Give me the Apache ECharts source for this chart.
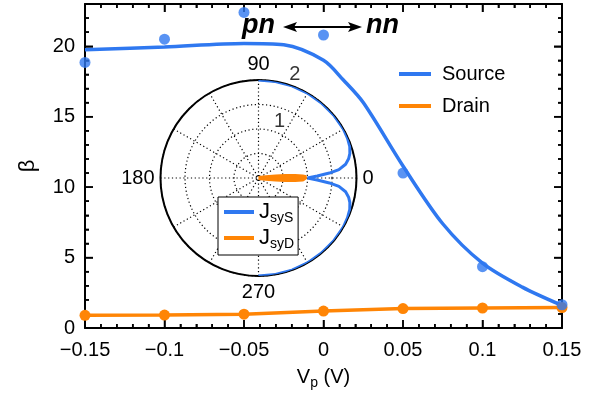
<!DOCTYPE html>
<html>
<head>
<meta charset="utf-8">
<script src="https://cdn.jsdelivr.net/npm/echarts@6/dist/echarts.min.js"></script>
<style>
html, body { margin: 0; padding: 0; background: #fff; }
#wrap { position: relative; width: 599px; height: 397px; }
#wrap div.layer { position: absolute; left: 0; top: 0; width: 599px; height: 397px; }
</style>
</head>
<body>
<div id="wrap">
  <div class="layer" id="frame"></div>
  <div class="layer" id="main"></div>
  <div class="layer" id="inset"></div>
</div>
<script>
// measured points
var vp = [-0.15, -0.1, -0.05, 0, 0.05, 0.1, 0.15];
var sourceBeta = [18.85, 20.5, 22.4, 20.8, 11.0, 4.35, 1.65];
var drainBeta = [0.9, 0.92, 0.98, 1.2, 1.38, 1.42, 1.45];

// fitted source curve
var fitVp = [-0.15, -0.1, -0.05, -0.025, 0, 0.0125, 0.025, 0.05, 0.075, 0.1, 0.125, 0.15];
var fitBeta = [19.75, 19.95, 20.2, 20.1, 19.0, 17.6, 16.0, 11.5, 7.4, 4.6, 2.9, 1.6];

// inset polar curves (angle in degrees, magnitude)
var jsySAngle = [90, 80, 70, 60, 50, 40, 30, 24, 19, 15, 12, 9, 6, 4, 2, 0, 358, 356, 354, 351, 348, 345, 341, 336, 330, 320, 310, 300, 290, 280, 270];
var jsySMag = [2, 2, 2, 2, 2, 2, 2, 1.99, 1.97, 1.93, 1.88, 1.8, 1.65, 1.45, 1.2, 1.0, 1.2, 1.45, 1.65, 1.8, 1.88, 1.93, 1.97, 1.99, 2, 2, 2, 2, 2, 2, 2];
var jsyDAngle = [8, 6, 5, 4, 3, 2, 1, 0, 359, 358, 357, 356, 355, 354, 352];
var jsyDMag = [0, 0.15, 0.35, 0.55, 0.75, 0.9, 0.97, 1.0, 0.97, 0.9, 0.75, 0.55, 0.35, 0.15, 0];
var radialTicks = [1, 2];
var angleTicks = [0, 90, 180, 270];

var blue = '#2f78f0';
var orange = '#ff8505';
var font = 'Liberation Sans, Arial, sans-serif';
var grid = { left: 85, right: 37, top: 4, bottom: 69, containLabel: false, outerBoundsMode: 'none' };
var xRange = { min: -0.15, max: 0.15, interval: 0.05 };
var yRange = { min: 0, max: 23, interval: 5 };

function pairs(a, b) {
    return a.map(function (v, i) { return [v, b[i]]; });
}

function fmtX(v) {
    var s = String(+Math.abs(v).toFixed(2));
    return v < -1e-9 ? '\u2212' + s : s;
}

function assign(target) {
    for (var i = 1; i < arguments.length; i++) {
        for (var k in arguments[i]) target[k] = arguments[i][k];
    }
    return target;
}

// boxed frame with inward ticks
function frameAxis(range, extra) {
    return assign({
        type: 'value',
        axisLine: { show: true, onZero: false, lineStyle: { color: '#000', width: 2 } },
        axisTick: { show: true, inside: true, length: 8, lineStyle: { color: '#000', width: 1.5 } },
        minorTick: { show: true, splitNumber: 5, length: 4, lineStyle: { color: '#000', width: 1.5 } },
        splitLine: { show: false },
        minorSplitLine: { show: false }
    }, range, extra);
}

// tick marks on all four sides, placed through the axis scales
var frameTicks = [];
for (var i = 0; i <= 30; i++) {
    frameTicks.push([+(xRange.min + i * 0.01).toFixed(2), yRange.min, 0, i % 5 === 0 ? 8 : 4]);
}
for (var j = 0; j <= 23; j++) {
    frameTicks.push([xRange.min, j, 1, j % 5 === 0 ? 8 : 4]);
}

function renderTick(params, api) {
    var kind = api.value(2), len = api.value(3);
    var st = { stroke: '#000', lineWidth: 1.5 };
    var a, b;
    if (kind === 0) {
        a = api.coord([api.value(0), yRange.min]);
        b = api.coord([api.value(0), yRange.max]);
        return { type: 'group', children: [
            { type: 'line', shape: { x1: a[0], y1: a[1], x2: a[0], y2: a[1] - len }, style: st },
            { type: 'line', shape: { x1: b[0], y1: b[1], x2: b[0], y2: b[1] + len }, style: st }
        ] };
    }
    a = api.coord([xRange.min, api.value(1)]);
    b = api.coord([xRange.max, api.value(1)]);
    return { type: 'group', children: [
        { type: 'line', shape: { x1: a[0], y1: a[1], x2: a[0] + len, y2: a[1] }, style: st },
        { type: 'line', shape: { x1: b[0], y1: b[1], x2: b[0] - len, y2: b[1] }, style: st }
    ] };
}

// layer 1: frame, ticks, labels
var frameChart = echarts.init(document.getElementById('frame'));
frameChart.setOption({
    animation: false,
    backgroundColor: '#fff',
    textStyle: { fontFamily: font },
    grid: grid,
    xAxis: [
        frameAxis(xRange, {
            axisLabel: { color: '#000', fontSize: 20, margin: 12, formatter: fmtX },
            name: '{v|V}{p|p}{v| (V)}', nameLocation: 'middle', nameGap: 36,
            nameTextStyle: {
                rich: {
                    v: { fontSize: 20, color: '#000', fontFamily: font },
                    p: { fontSize: 14, color: '#000', fontFamily: font, padding: [12, 0, 0, 0] }
                }
            }
        }),
        frameAxis(xRange, { position: 'top', axisLabel: { show: false } })
    ],
    yAxis: [
        frameAxis(yRange, {
            axisLabel: { color: '#000', fontSize: 20, margin: 10, showMaxLabel: false },
            name: '\u03b2', nameLocation: 'middle', nameGap: 46, nameRotate: 90,
            nameTextStyle: { color: '#000', fontSize: 22 }
        }),
        frameAxis(yRange, { position: 'right', axisLabel: { show: false } })
    ],
    series: [
        {
            type: 'custom', coordinateSystem: 'cartesian2d', xAxisIndex: 0, yAxisIndex: 0,
            data: frameTicks, renderItem: renderTick, silent: true, clip: false, z: 10
        }
    ]
});

// layer 2: beta vs Vp
var mainChart = echarts.init(document.getElementById('main'));
mainChart.setOption({
    animation: false,
    backgroundColor: 'transparent',
    textStyle: { fontFamily: font },
    grid: grid,
    xAxis: assign({ type: 'value', show: false }, xRange),
    yAxis: assign({ type: 'value', show: false }, yRange),
    legend: {
        data: ['Source', 'Drain'], orient: 'vertical', left: 399, top: 64,
        padding: 0, itemGap: 12, itemWidth: 32, itemHeight: 4, icon: 'rect',
        textStyle: { color: '#000', fontSize: 20, padding: [0, 0, 0, 6] },
        selectedMode: false
    },
    series: [
        {
            name: 'Source', type: 'line',
            data: pairs(fitVp, fitBeta), smooth: 0.3, showSymbol: false,
            color: blue, lineStyle: { color: blue, width: 3.5 }, z: 3
        },
        {
            name: 'Source data', type: 'scatter',
            data: pairs(vp, sourceBeta), symbolSize: 11,
            itemStyle: { color: blue }, z: 4
        },
        {
            name: 'Drain', type: 'line',
            data: pairs(vp, drainBeta), symbol: 'circle', symbolSize: 11, showSymbol: true,
            color: orange, itemStyle: { color: orange }, lineStyle: { color: orange, width: 3.5 }, z: 3
        }
    ]
});

// layer 3: polar inset and annotation
var dotted = { color: '#000', type: [1.2, 2.6], width: 1.2 };
var insetChart = echarts.init(document.getElementById('inset'));
insetChart.setOption({
    animation: false,
    backgroundColor: 'transparent',
    textStyle: { fontFamily: font },
    polar: { center: [258.5, 178], radius: 98 },
    angleAxis: {
        type: 'value', min: 0, max: 360, interval: 30, startAngle: 0, clockwise: false,
        axisLine: { show: true, lineStyle: { color: '#000', width: 2 } },
        axisTick: { show: false },
        axisLabel: {
            color: '#000', fontSize: 20, margin: 6,
            formatter: function (v) { return angleTicks.indexOf(v) >= 0 ? String(v) : ''; }
        },
        splitLine: { show: true, lineStyle: dotted }
    },
    radiusAxis: {
        type: 'value', min: 0, max: 2, interval: 0.5,
        axisLine: { show: false }, axisTick: { show: false }, axisLabel: { show: false },
        splitLine: { show: true, lineStyle: dotted }
    },
    legend: {
        data: ['JsyS', 'JsyD'], orient: 'vertical', left: 218, top: 197,
        padding: [4, 4, 4, 6], itemGap: 2, itemWidth: 30, itemHeight: 4, icon: 'rect',
        backgroundColor: '#fff', borderColor: '#000', borderWidth: 1, borderRadius: 0,
        selectedMode: false,
        formatter: function (n) { return '{j|J}{s|' + n.slice(1) + '}'; },
        textStyle: {
            rich: {
                j: { fontSize: 22, color: '#000', fontFamily: font },
                s: { fontSize: 14, color: '#000', fontFamily: font, padding: [12, 0, 0, 0] }
            }
        }
    },
    graphic: [
        { type: 'text', left: 242, top: 12, style: { text: 'pn', font: 'italic bold 27px ' + font, fill: '#000' } },
        { type: 'text', left: 366, top: 12, style: { text: 'nn', font: 'italic bold 27px ' + font, fill: '#000' } },
        { type: 'line', shape: { x1: 292, y1: 27, x2: 354, y2: 27 }, style: { stroke: '#000', lineWidth: 2 } },
        { type: 'polygon', shape: { points: [[283, 27], [297, 22], [294, 27], [297, 32]] }, style: { fill: '#000' } },
        { type: 'polygon', shape: { points: [[362, 27], [348, 22], [351, 27], [348, 32]] }, style: { fill: '#000' } }
    ],
    series: [
        {
            name: 'JsyS', type: 'line', coordinateSystem: 'polar',
            data: pairs(jsySMag, jsySAngle), showSymbol: false,
            color: blue, lineStyle: { color: blue, width: 3 }, z: 5
        },
        {
            name: 'JsyD', type: 'line', coordinateSystem: 'polar',
            data: pairs(jsyDMag, jsyDAngle), showSymbol: false,
            color: orange, lineStyle: { color: orange, width: 4 }, z: 6
        },
        {
            name: 'radial ticks', type: 'scatter', coordinateSystem: 'polar',
            data: radialTicks.map(function (t) { return [t, 72]; }),
            symbolSize: 1, itemStyle: { color: 'rgba(0,0,0,0)' }, silent: true, z: 7,
            label: {
                show: true, position: 'inside', offset: [6, -10], color: '#000', fontSize: 20,
                formatter: function (p) { return String(p.value[0]); }
            }
        }
    ]
});
</script>
</body>
</html>
